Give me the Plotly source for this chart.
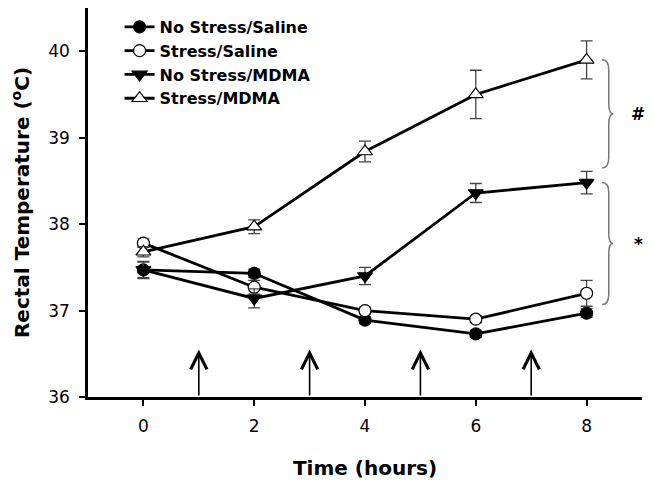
import plotly.graph_objects as go

# ---- data ----
time_h = [0, 2, 4, 6, 8]

ns_saline = [37.47, 37.43, 36.89, 36.73, 36.97]
ns_saline_err = [0.09, 0.05, 0.04, 0.04, 0.05]

s_saline = [37.78, 37.27, 37.00, 36.90, 37.20]
s_saline_err = [0.05, 0.08, 0.04, 0.04, 0.15]

ns_mdma = [37.47, 37.14, 37.40, 38.36, 38.48]
ns_mdma_err = [0.10, 0.11, 0.10, 0.11, 0.13]

s_mdma = [37.68, 37.97, 38.84, 39.50, 39.90]
s_mdma_err = [0.06, 0.08, 0.12, 0.28, 0.22]

series_names = ["No Stress/Saline", "Stress/Saline", "No Stress/MDMA", "Stress/MDMA"]

injection_times = [1, 3, 5, 7]
arrow_top = 36.55

# significance brackets: (top, bottom, label)
bracket_tops = [39.90, 38.48]
bracket_bottoms = [38.65, 37.07]
bracket_labels = ["#", "*"]

x_ticks = [0, 2, 4, 6, 8]
y_ticks = [36, 37, 38, 39, 40]

# ---- figure ----
fig = go.Figure()

styles = [
    dict(symbol="circle", color="black", size=12),
    dict(symbol="circle", color="white", size=12),
    dict(symbol="triangle-down", color="black", size=13),
    dict(symbol="triangle-up", color="white", size=13),
]
values = [ns_saline, s_saline, ns_mdma, s_mdma]
errors = [ns_saline_err, s_saline_err, ns_mdma_err, s_mdma_err]

for name, y, e, st in zip(series_names, values, errors, styles):
    fig.add_trace(go.Scatter(
        x=time_h, y=y, name=name, mode="lines+markers",
        line=dict(color="black", width=2.8),
        marker=dict(symbol=st["symbol"], size=st["size"], color=st["color"],
                    line=dict(color="black", width=1.2)),
        error_y=dict(type="data", array=e, visible=True, color="#444",
                     thickness=1.3, width=6),
        legendgroup=name,
    ))

# injection arrows
for t in injection_times:
    fig.add_annotation(x=t, y=arrow_top, ax=t, ay=36.0, xref="x", yref="y",
                       axref="x", ayref="y", text="", showarrow=True,
                       arrowhead=5, arrowsize=2.0, arrowwidth=1.6,
                       arrowcolor="black")

# braces
x0, x1, x2 = 8.28, 8.40, 8.48
d = 0.12
for top, bot, lab in zip(bracket_tops, bracket_bottoms, bracket_labels):
    mid = (top + bot) / 2
    path = (f"M {x0},{top} Q {x1},{top} {x1},{top - d} "
            f"L {x1},{mid + d} Q {x1},{mid} {x2},{mid} "
            f"Q {x1},{mid} {x1},{mid - d} "
            f"L {x1},{bot + d} Q {x1},{bot} {x0},{bot}")
    fig.add_shape(type="path", path=path, xref="x", yref="y",
                  line=dict(color="#777", width=1.5))
    fig.add_annotation(x=8.93, y=mid, xref="x", yref="y", text=f"<b>{lab}</b>",
                       showarrow=False,
                       font=dict(family="DejaVu Sans", size=17, color="black"))

fig.update_layout(
    width=646, height=478,
    margin=dict(l=80, r=12, t=0, b=89),
    paper_bgcolor="white", plot_bgcolor="white",
    font=dict(family="DejaVu Sans", color="black"),
    showlegend=True,
    legend=dict(x=0.057, y=0.995, xanchor="left", yanchor="top",
                bgcolor="rgba(0,0,0,0)", tracegroupgap=0,
                font=dict(family="DejaVu Sans", size=16, color="black",
                          weight="bold")),
    xaxis=dict(range=[-1, 9], tickvals=x_ticks, showline=True, linecolor="black",
               linewidth=2.5, ticks="outside", ticklen=6, tickwidth=2,
               tickcolor="black", showgrid=False, zeroline=False,
               ticklabelstandoff=6,
               tickfont=dict(family="DejaVu Sans", size=17),
               title=dict(text="<b>Time (hours)</b>", standoff=26,
                          font=dict(family="DejaVu Sans", size=20))),
    yaxis=dict(range=[36, 40.5], tickvals=y_ticks, showline=True, linecolor="black",
               linewidth=2.5, ticks="outside", ticklen=6, tickwidth=2,
               tickcolor="black", showgrid=False, zeroline=False,
               ticklabelstandoff=6,
               tickfont=dict(family="DejaVu Sans", size=17),
               title=dict(text="<b>Rectal Temperature (<sup>o</sup>C)</b>", standoff=16,
                          font=dict(family="DejaVu Sans", size=20))),
)

fig.write_html("out.html")
